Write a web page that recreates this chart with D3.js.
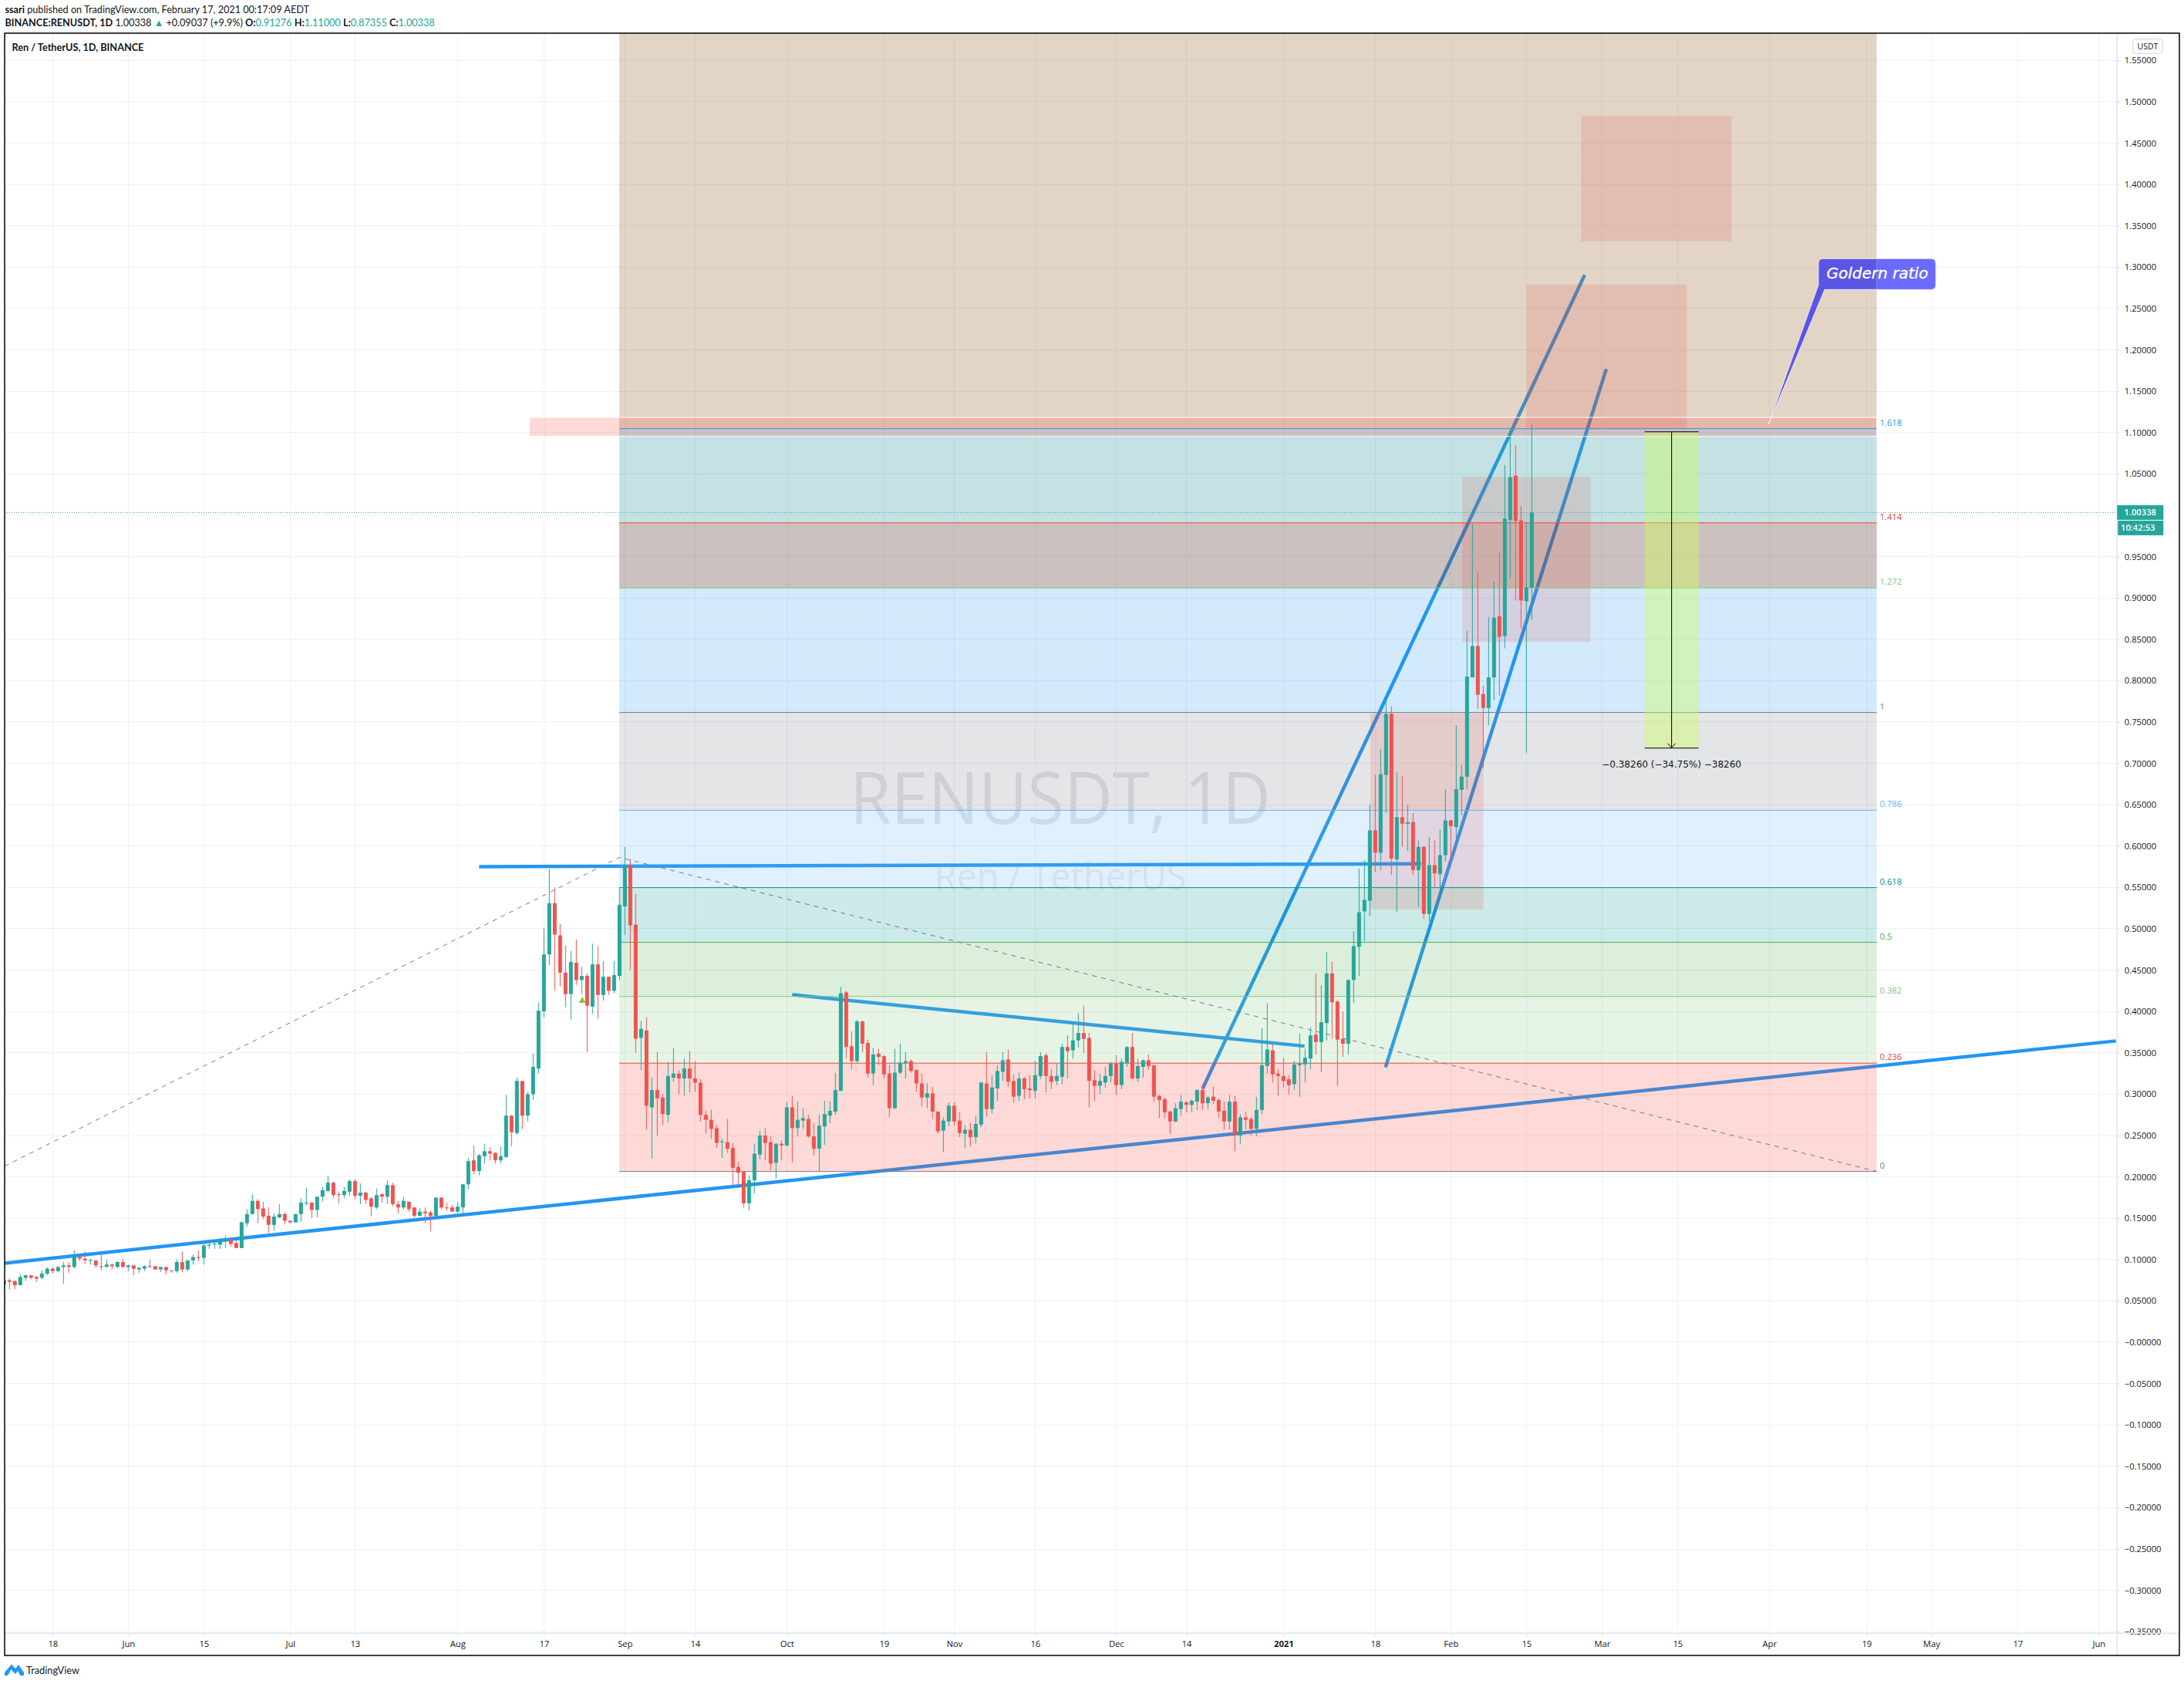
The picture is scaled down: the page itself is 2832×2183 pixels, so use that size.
<!DOCTYPE html>
<html><head><meta charset="utf-8">
<script src="https://cdnjs.cloudflare.com/ajax/libs/d3/7.8.5/d3.min.js"></script>
<style>
html,body{margin:0;padding:0;background:#fff}
svg{display:block}
text{font-family:"Open Sans",sans-serif;fill:#131722}
</style></head><body><div id="chart"></div>
<script>
// Daily candles as [open, high, low, close], by month. First candle is 9 May 2020.
const may2020=[[.070,.075,.070,.075],[.075,.077,.064,.073],[.074,.075,.064,.069],[.069,.082,.069,.079],[.078,.081,.074,.081],[.081,.081,.076,.078],[.079,.080,.073,.077],[.078,.087,.076,.083],[.083,.091,.081,.089],[.089,.091,.083,.086],[.086,.092,.085,.091],[.091,.097,.071,.093],[.093,.097,.084,.091],[.091,.111,.089,.103],[.103,.107,.098,.101],[.101,.110,.095,.099],[.099,.101,.094,.0995],[.099,.099,.090,.093],[.092,.109,.087,.091],[.091,.100,.091,.094],[.094,.095,.088,.092],[.091,.098,.090,.097],[.097,.101,.090,.091]];
const jun2020=[[.091,.094,.086,.093],[.093,.093,.081,.089],[.088,.091,.084,.090],[.089,.093,.086,.092],[.092,.100,.090,.091],[.092,.092,.088,.088],[.088,.091,.085,.091],[.091,.091,.082,.087],[.087,.087,.084,.0865],[.086,.100,.084,.097],[.097,.110,.085,.088],[.088,.099,.086,.099],[.099,.106,.094,.103],[.103,.111,.098,.102],[.102,.121,.094,.117],[.117,.121,.113,.118],[.118,.123,.113,.119],[.118,.126,.113,.123],[.122,.129,.114,.124],[.124,.127,.116,.119],[.120,.123,.114,.114],[.114,.146,.114,.145],[.144,.161,.140,.155],[.155,.179,.155,.171],[.171,.173,.144,.161],[.162,.170,.149,.152],[.153,.163,.132,.142],[.142,.156,.135,.152],[.151,.167,.150,.155],[.155,.157,.143,.147]];
const jul2020=[[.147,.147,.144,.145],[.145,.155,.145,.155],[.155,.174,.146,.169],[.168,.187,.165,.169],[.169,.169,.150,.160],[.160,.176,.151,.176],[.176,.188,.170,.184],[.183,.201,.182,.193],[.193,.194,.174,.178],[.179,.182,.168,.178],[.178,.188,.174,.183],[.182,.197,.177,.195],[.195,.197,.173,.177],[.177,.192,.167,.181],[.181,.182,.167,.172],[.174,.176,.152,.164],[.163,.186,.161,.178],[.179,.180,.169,.176],[.176,.196,.167,.190],[.190,.193,.164,.167],[.167,.171,.156,.163],[.163,.176,.160,.171],[.170,.170,.158,.161],[.163,.163,.151,.153],[.153,.162,.152,.158],[.158,.163,.144,.156],[.157,.159,.134,.153],[.153,.175,.153,.175],[.175,.175,.161,.163],[.163,.169,.159,.162],[.163,.166,.158,.158]];
const aug2020=[[.158,.170,.156,.164],[.163,.191,.152,.191],[.191,.223,.185,.219],[.220,.238,.203,.207],[.207,.228,.202,.226],[.225,.240,.216,.231],[.231,.236,.220,.228],[.229,.230,.216,.220],[.220,.237,.216,.225],[.224,.299,.223,.274],[.274,.275,.237,.254],[.253,.320,.251,.316],[.316,.316,.258,.274],[.274,.303,.267,.300],[.300,.349,.293,.333],[.331,.411,.325,.401],[.400,.501,.393,.469],[.469,.572,.456,.531],[.531,.550,.425,.493],[.492,.506,.430,.447],[.447,.480,.405,.421],[.421,.473,.390,.460],[.459,.487,.432,.438],[.438,.454,.421,.443],[.443,.446,.351,.407],[.406,.482,.397,.457],[.457,.479,.391,.420],[.420,.461,.413,.442],[.442,.442,.420,.425],[.425,.461,.422,.444],[.443,.550,.438,.529]];
const sep2020=[[.527,.599,.493,.577],[.577,.584,.450,.504],[.505,.542,.350,.367],[.368,.389,.329,.379],[.377,.393,.257,.286],[.284,.320,.222,.305],[.305,.351,.250,.295],[.296,.300,.263,.276],[.275,.339,.266,.322],[.320,.356,.315,.325],[.325,.329,.300,.319],[.319,.343,.298,.331],[.331,.352,.302,.319],[.319,.340,.303,.314],[.314,.318,.267,.275],[.275,.280,.252,.269],[.269,.281,.246,.258],[.259,.263,.235,.241],[.242,.246,.223,.243],[.242,.270,.229,.234],[.235,.241,.190,.211],[.212,.218,.190,.205],[.206,.207,.163,.168],[.168,.202,.159,.196],[.196,.240,.180,.228],[.227,.256,.221,.250],[.250,.259,.220,.241],[.242,.249,.208,.216],[.217,.241,.198,.240],[.240,.244,.220,.238]];
const oct2020=[[.238,.291,.237,.284],[.284,.298,.217,.259],[.259,.291,.249,.269],[.268,.283,.258,.271],[.270,.275,.247,.249],[.249,.265,.226,.234],[.234,.275,.207,.262],[.261,.292,.239,.276],[.274,.291,.265,.280],[.279,.326,.275,.305],[.304,.430,.304,.422],[.423,.425,.343,.357],[.358,.376,.330,.340],[.340,.390,.338,.388],[.388,.389,.351,.361],[.362,.366,.320,.325],[.325,.356,.311,.348],[.349,.355,.335,.345],[.346,.347,.319,.324],[.325,.335,.272,.283],[.283,.355,.282,.326],[.326,.361,.324,.338],[.338,.351,.319,.340],[.340,.342,.326,.328],[.329,.330,.303,.313],[.313,.325,.285,.296],[.296,.313,.283,.301],[.301,.309,.270,.279],[.279,.279,.252,.255],[.256,.272,.230,.268],[.267,.290,.261,.286]];
const nov2020=[[.286,.290,.262,.267],[.268,.278,.248,.253],[.252,.263,.235,.257],[.257,.265,.237,.248],[.248,.274,.240,.264],[.263,.315,.260,.314],[.313,.351,.273,.282],[.282,.323,.277,.308],[.307,.335,.292,.328],[.327,.351,.316,.341],[.342,.354,.309,.315],[.316,.324,.290,.297],[.298,.326,.292,.319],[.319,.321,.294,.306],[.307,.323,.295,.305],[.304,.340,.295,.323],[.322,.351,.318,.346],[.347,.350,.302,.322],[.322,.330,.306,.315],[.316,.337,.311,.322],[.321,.361,.312,.357],[.357,.371,.319,.352],[.353,.386,.343,.365],[.365,.398,.356,.374],[.374,.407,.350,.367],[.368,.374,.284,.316],[.317,.329,.292,.310],[.310,.325,.300,.316],[.314,.333,.308,.322],[.322,.339,.314,.337]];
const dec2020=[[.337,.347,.299,.311],[.311,.343,.306,.339],[.338,.358,.333,.357],[.357,.374,.318,.319],[.319,.343,.315,.334],[.333,.342,.320,.341],[.341,.348,.330,.334],[.335,.335,.291,.297],[.298,.299,.271,.293],[.294,.296,.271,.278],[.279,.280,.252,.267],[.267,.289,.266,.283],[.282,.299,.274,.291],[.290,.292,.278,.287],[.287,.294,.278,.292],[.291,.306,.281,.305],[.305,.311,.281,.289],[.289,.298,.282,.296],[.297,.309,.288,.292],[.293,.295,.271,.279],[.280,.291,.257,.267],[.267,.299,.257,.291],[.291,.298,.231,.251],[.250,.276,.240,.272],[.272,.279,.257,.269],[.270,.272,.250,.258],[.258,.297,.249,.281],[.281,.380,.276,.335],[.334,.410,.325,.354],[.353,.360,.314,.324],[.325,.330,.298,.322]];
const jan2021=[[.322,.344,.308,.316],[.318,.323,.299,.311],[.312,.340,.305,.336],[.335,.373,.297,.337],[.336,.355,.314,.344],[.343,.381,.330,.371],[.372,.446,.348,.363],[.363,.432,.327,.387],[.386,.472,.365,.446],[.446,.460,.367,.411],[.412,.414,.310,.366],[.367,.400,.345,.361],[.361,.439,.348,.438],[.438,.497,.410,.479],[.478,.573,.443,.520],[.521,.583,.485,.535],[.534,.650,.515,.619],[.619,.686,.569,.592],[.592,.717,.571,.687],[.686,.779,.640,.760],[.760,.769,.565,.585],[.584,.689,.520,.635],[.635,.685,.599,.627],[.627,.650,.594,.629],[.629,.640,.565,.571],[.571,.607,.527,.599],[.599,.600,.512,.518],[.518,.611,.509,.577],[.577,.607,.551,.567],[.566,.620,.549,.589],[.589,.669,.581,.631]];
const feb2021=[[.631,.632,.582,.624],[.623,.746,.609,.669],[.668,.698,.637,.684],[.684,.860,.669,.805],[.804,.990,.804,.842],[.842,.931,.766,.783],[.784,.794,.694,.767],[.767,.877,.746,.804],[.804,.920,.776,.876],[.878,.955,.782,.853],[.854,1.061,.839,.996],[.994,1.103,.923,1.046],[1.048,1.085,.897,.993],[.994,1.011,.863,.897],[.896,.991,.713,.913],[.91276,1.11,.87355,1.00338]];
const firstCandleDay=-23; // days relative to 1 Jun 2020

const priceTicks=d3.range(0,39).map(i=>+(1.55-i*.05).toFixed(2));
const timeTickDays=[-14,0,14,30,42,61,77,92,105,122,140,153,168,183,196,214,231,245,259,273,287,304,322,334,350,365];
const timeTickLabels=["18","Jun","15","Jul","13","Aug","17","Sep","14","Oct","19","Nov","16","Dec","14","2021","18","Feb","15","Mar","15","Apr","19","May","17","Jun"];

const fibStartDay=90.96, fibEndDay=323.9, fibCeiling=1.65;
const fibRatios=["0","0.236","0.382","0.5","0.618","0.786","1","1.272","1.414","1.618"];
const fibPrices=[.2065,.3375,.4182,.4836,.5498,.6433,.7616,.9122,.9909,1.1047];
const fibLineColors=["#787b86","#f44336","#81c784","#4caf50","#009688","#64b5f6","#787b86","#81c784","#f44336","#2196f3"];
const fibFillColors=["rgba(244,67,54,.2)","rgba(129,199,132,.2)","rgba(76,175,80,.2)","rgba(0,150,136,.2)","rgba(100,181,246,.2)","rgba(120,123,134,.2)","rgba(33,150,243,.2)","rgba(106,81,72,.35)","rgba(58,158,162,.3)","rgba(158,115,65,.3)"];

// [day1, price1, day2, price2]
const blueTrendLines=[[-22.9,.0957,368.2,.3644],[65,.5752,239.5,.5786],[123,.4203,217.9,.3581],[199,.3065,269.8,1.2907],[232.9,.3326,273.8,1.1769]];
const dashedPath=[[-22.9,.2129],[91,.5864],[323.9,.2065]];
// [day1, price1, day2, price2]
const redBoxes=[[269.1,1.4828,297,1.3317],[259.05,1.2791,288.7,1.1041],[247.1,1.0466,270.9,.8466],[230.1,.7605,251,.5233]];
const pinkBand=[74.3,1.1184,323.9,1.0954];
const measure={day1:280.9,day2:290.9,top:1.101,bottom:.7185,label:"\u22120.38260 (\u221234.75%) \u221238260"};
const triangleMark=[84.1,.4138];
const lastPrice=1.00338;
const callout={tipDay:303.9,tipPrice:1.1106,boxDay:313.1,boxPrice:1.3103,text:"Goldern ratio"};

const W=2832,H=2183,L=6,T=43,R=2826,B=2146,axisX=2745.3,axisY=2117.3;
const candles=[...may2020,...jun2020,...jul2020,...aug2020,...sep2020,...oct2020,...nov2020,...dec2020,...jan2021,...feb2021]
  .map((c,i)=>({day:firstCandleDay+i,open:c[0],high:c[1],low:c[2],close:c[3]}));

const x=d3.scaleLinear().domain([0,259]).range([166.3,1979.3]);
const y=d3.scaleLinear().domain([1.55,-.35]).range([78.4,2115.2]);

const svg=d3.select("#chart").append("svg").attr("width",W).attr("height",H);
const defs=svg.append("defs");
defs.append("clipPath").attr("id","plot").append("rect").attr("x",L).attr("y",T).attr("width",axisX-L).attr("height",axisY-T);
defs.append("clipPath").attr("id","inFib").append("rect").attr("x",0).attr("y",0).attr("width",x(fibEndDay)).attr("height",H);
defs.append("clipPath").attr("id","outFib").append("rect").attr("x",x(fibEndDay)).attr("y",0).attr("width",W).attr("height",H);

// header
const h1=svg.append("text").attr("x",6.5).attr("y",17).attr("font-size",12.65).style("font-family","Lato,sans-serif");
h1.append("tspan").attr("font-weight",700).text("ssari");
h1.append("tspan").text(" published on TradingView.com, February 17, 2021 00:17:09 AEDT");
const h2=svg.append("text").attr("x",6.5).attr("y",34).attr("font-size",12.65).style("font-family","Lato,sans-serif");
h2.append("tspan").attr("font-weight",700).text("BINANCE:RENUSDT, 1D");
h2.append("tspan").text("  1.00338 ");
h2.append("tspan").style("fill","#26a69a").text("\u25B2");
h2.append("tspan").text(" +0.09037 (+9.9%) ");
[["O:","0.91276"],["H:","1.11000"],["L:","0.87355"],["C:","1.00338"]].forEach(p=>{
  h2.append("tspan").attr("font-weight",700).text(p[0]);
  h2.append("tspan").style("fill","#26a69a").text(p[1]+" ");
});

const plot=svg.append("g").attr("clip-path","url(#plot)");
// watermark
plot.append("text").attr("x",1102).attr("y",1067.5).attr("textLength",546).attr("lengthAdjust","spacingAndGlyphs").attr("font-size",93).style("font-family","'Open Sans',sans-serif").style("fill","rgba(120,123,134,.2)").text("RENUSDT, 1D");
plot.append("text").attr("x",1375).attr("y",1153).attr("text-anchor","middle").attr("font-size",46.6).style("font-family","'Open Sans',sans-serif").style("fill","rgba(120,123,134,.13)").text("Ren / TetherUS");

// grid
const grid=plot.append("g").attr("stroke","#f0f1f5").attr("stroke-width",1);
grid.selectAll(".h").data(priceTicks).join("line").attr("x1",L).attr("x2",axisX).attr("y1",d=>Math.floor(y(d))+.5).attr("y2",d=>Math.floor(y(d))+.5);
grid.selectAll(".v").data(timeTickDays).join("line").attr("y1",T).attr("y2",axisY).attr("x1",d=>Math.floor(x(d))+.5).attr("x2",d=>Math.floor(x(d))+.5);

// blue trend lines (below the translucent zones)
plot.append("g").selectAll("line").data(blueTrendLines).join("line")
  .attr("x1",d=>x(d[0])).attr("y1",d=>y(d[1])).attr("x2",d=>x(d[2])).attr("y2",d=>y(d[3]))
  .attr("stroke","#2196f3").attr("stroke-width",4.5);

// fib zones
const upper=fibPrices.map((p,i)=>i<fibPrices.length-1?fibPrices[i+1]:fibCeiling);
plot.append("g").selectAll("rect").data(fibPrices).join("rect")
  .attr("x",x(fibStartDay)).attr("width",x(fibEndDay)-x(fibStartDay))
  .attr("y",(d,i)=>y(upper[i])).attr("height",(d,i)=>y(d)-y(upper[i]))
  .attr("fill",(d,i)=>fibFillColors[i]);

// boxes
plot.append("g").selectAll("rect").data(redBoxes).join("rect")
  .attr("x",d=>x(d[0])).attr("y",d=>y(d[1])).attr("width",d=>x(d[2])-x(d[0])).attr("height",d=>y(d[3])-y(d[1]))
  .attr("fill","rgba(230,60,60,.15)");
plot.append("rect").attr("x",x(pinkBand[0])).attr("y",y(pinkBand[1])).attr("width",x(pinkBand[2])-x(pinkBand[0])).attr("height",y(pinkBand[3])-y(pinkBand[1]))
  .attr("fill","rgba(244,67,54,.2)").attr("stroke","#fff").attr("stroke-width",1);

// fib level lines
plot.append("g").selectAll("line").data(fibPrices).join("line")
  .attr("x1",x(fibStartDay)).attr("x2",x(fibEndDay)).attr("y1",d=>y(d)).attr("y2",d=>y(d))
  .attr("stroke",(d,i)=>fibLineColors[i]).attr("stroke-width",1);
svg.append("g").selectAll("text").data(fibPrices).join("text")
  .attr("x",x(fibEndDay)+4).attr("y",d=>y(d)-4).attr("font-size",11.2)
  .style("fill",(d,i)=>fibLineColors[i]).text((d,i)=>fibRatios[i]);

// dashed retracement path
plot.append("path").attr("d",d3.line().x(d=>x(d[0])).y(d=>y(d[1]))(dashedPath))
  .attr("fill","none").attr("stroke","#787b86").attr("stroke-width",1).attr("stroke-dasharray","6 6");

// candles
const up="#26a69a",dn="#ef5350",color=d=>d.close>=d.open?up:dn;
const cg=plot.append("g");
cg.selectAll("line").data(candles).join("line")
  .attr("x1",d=>x(d.day)).attr("x2",d=>x(d.day)).attr("y1",d=>y(d.high)).attr("y2",d=>y(d.low))
  .attr("stroke",color).attr("stroke-width",1);
cg.selectAll("rect").data(candles).join("rect")
  .attr("x",d=>x(d.day)-2.5).attr("width",5)
  .attr("y",d=>y(Math.max(d.open,d.close))).attr("height",d=>Math.max(1,Math.abs(y(d.open)-y(d.close))))
  .attr("fill",color);

// triangle
plot.append("path").attr("transform",`translate(${x(triangleMark[0])},${y(triangleMark[1])})`)
  .attr("d","M0,-4.5L4.5,3.5L-4.5,3.5Z").attr("fill","#8bc34a");

// measure tool
const mx=(x(measure.day1)+x(measure.day2))/2;
const mg=plot.append("g");
mg.append("rect").attr("x",x(measure.day1)).attr("width",x(measure.day2)-x(measure.day1)).attr("y",y(measure.top)).attr("height",y(measure.bottom)-y(measure.top)).attr("fill","rgba(205,255,90,.4)");
mg.selectAll(".e").data([measure.top,measure.bottom]).join("line").attr("x1",x(measure.day1)).attr("x2",x(measure.day2)).attr("y1",d=>y(d)).attr("y2",d=>y(d)).attr("stroke","#000").attr("stroke-width",1.2);
mg.append("line").attr("x1",mx).attr("x2",mx).attr("y1",y(measure.top)).attr("y2",y(measure.bottom)).attr("stroke","#000").attr("stroke-width",1);
mg.append("path").attr("d",`M${mx-5},${y(measure.bottom)-6}L${mx},${y(measure.bottom)-.5}L${mx+5},${y(measure.bottom)-6}`).attr("fill","none").attr("stroke","#000");
mg.append("text").attr("x",mx).attr("y",y(measure.bottom)+25.5).attr("text-anchor","middle").attr("font-size",12).style("font-family","'DejaVu Sans',sans-serif").text(measure.label);

// last-price dotted line
plot.append("line").attr("x1",L).attr("x2",axisX).attr("y1",y(lastPrice)).attr("y2",y(lastPrice)).attr("stroke",up).attr("stroke-width",1).attr("stroke-dasharray","1 2");

// callout
const bx=x(callout.boxDay),by=y(callout.boxPrice),bw=152,bh=40,r=6;
const cPath=`M${bx+r},${by}H${bx+bw-r}Q${bx+bw},${by} ${bx+bw},${by+r}V${by+bh-r}Q${bx+bw},${by+bh} ${bx+bw-r},${by+bh}H${bx+8}L${x(callout.tipDay)},${y(callout.tipPrice)}L${bx},${by+34}V${by+r}Q${bx},${by} ${bx+r},${by}Z`;
svg.append("path").attr("d",cPath).attr("fill","#5b55e6").attr("stroke","rgba(255,255,255,.75)").attr("clip-path","url(#inFib)");
svg.append("path").attr("d",cPath).attr("fill","#6a6aff").attr("stroke","rgba(225,225,245,.9)").attr("clip-path","url(#outFib)");
svg.append("text").attr("x",bx+10.5).attr("y",by+26).attr("font-size",20).attr("font-style","italic").style("font-family","'DejaVu Sans',sans-serif").style("fill","#fff").style("stroke","#fff").style("stroke-width",.35).text(callout.text);

// axes via d3
const yFmt=d=>{const a=Math.abs(d).toFixed(5);return (d<=0?"\u2212":"")+a;};
const yAxis=d3.axisRight(y).tickValues(priceTicks).tickFormat(yFmt).tickSize(4).tickPadding(5.5);
const ya=svg.append("g").attr("transform",`translate(${axisX},0)`).call(yAxis);
ya.select(".domain").remove();
ya.selectAll("line").attr("stroke","#e0e3eb").attr("stroke-width",1.2);
ya.selectAll("text").attr("font-size",11.2).style("font-family","'Open Sans',sans-serif").style("fill","#131722");

const xAxis=d3.axisBottom(x).tickValues(timeTickDays).tickFormat((d,i)=>timeTickLabels[i]).tickSize(4).tickPadding(6);
const xa=svg.append("g").attr("transform",`translate(0,${axisY})`).call(xAxis);
xa.select(".domain").remove();
xa.selectAll("line").attr("stroke","#e0e3eb").attr("stroke-width",1.2);
xa.selectAll("text").attr("font-size",11.2).style("font-family","'Open Sans',sans-serif").style("fill","#131722").attr("font-weight",(d,i)=>timeTickLabels[i]==="2021"?700:400);

svg.append("line").attr("x1",axisX).attr("x2",axisX).attr("y1",T).attr("y2",B).attr("stroke","#e0e3eb").attr("stroke-width",1.5);
svg.append("line").attr("x1",L).attr("x2",R).attr("y1",axisY).attr("y2",axisY).attr("stroke","#e0e3eb").attr("stroke-width",1.5);

// last price tags
const lp=y(lastPrice);
svg.append("rect").attr("x",axisX).attr("y",lp-9.5).attr("width",60).attr("height",19).attr("fill",up);
svg.append("rect").attr("x",axisX+1).attr("y",lp+10.5).attr("width",59).attr("height",19).attr("fill",up);
svg.append("text").attr("x",2754.5).attr("y",lp+4).attr("font-size",11.2).attr("font-weight",600).style("fill","#fff").text("1.00338");
svg.append("text").attr("x",2750).attr("y",lp+24).attr("font-size",11.2).attr("font-weight",600).style("fill","#fff").text("10:42:53");

// USDT button
svg.append("rect").attr("x",2765.7).attr("y",50.7).attr("width",38.6).attr("height",18.6).attr("rx",4).attr("fill","#fff").attr("stroke","#d1d4dc");
svg.append("text").attr("x",2785).attr("y",64).attr("text-anchor","middle").attr("font-size",10.5).text("USDT");

// pane title
svg.append("text").attr("x",15.5).attr("y",65.5).attr("font-size",12.7).attr("font-weight",700).style("font-family","Lato,sans-serif").text("Ren / TetherUS, 1D, BINANCE");

// frame
svg.append("rect").attr("x",L).attr("y",T).attr("width",R-L).attr("height",B-T).attr("fill","none").attr("stroke","#000").attr("stroke-width",1.5);

// footer logo
svg.append("path").attr("d","M6,2172 L6,2168 L15,2157.5 L20,2163 L24,2158 L31,2168 L31,2172 L26,2172 L23.5,2166 L19.5,2170 L14.5,2164 L10,2172 Z").attr("fill","#2196f3");
svg.append("text").attr("x",34).attr("y",2169.5).attr("font-size",12.8).style("font-family","Lato,sans-serif").text("TradingView");
</script></body></html>
